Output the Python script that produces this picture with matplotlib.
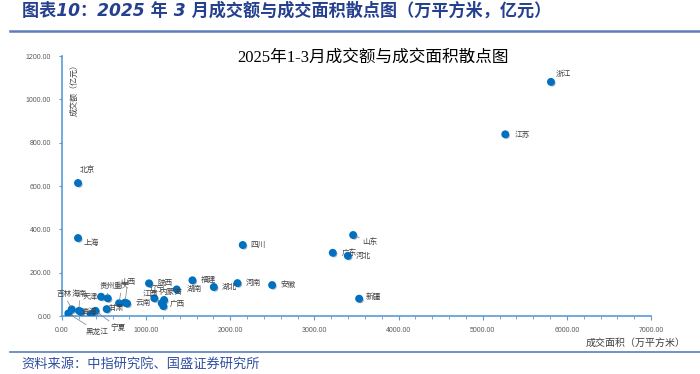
import matplotlib.pyplot as plt
import matplotlib.ticker as mticker
import matplotlib.patheffects as pe
from matplotlib.lines import Line2D

plt.rcParams['font.family'] = ['Noto Sans CJK SC', 'DejaVu Sans']

# 数据
provinces = ['浙江', '江苏', '北京', '上海', '四川', '山东', '广东', '河北', '新疆', '安徽',
             '河南', '湖北', '福建', '湖南', '陕西', '江西', '辽宁', '内蒙古', '广西', '天津',
             '贵州', '重庆', '山西', '云南', '甘肃', '宁夏', '西藏', '青海', '海南', '吉林', '黑龙江']
area = [5811, 5268, 190, 190, 2148, 3460, 3218, 3397, 3531, 2497,
        2085, 1804, 1550, 1363, 1034, 1097, 1213, 1185, 1204, 464,
        543, 678, 749, 773, 531, 398, 345, 222, 202, 115, 75]
amount = [1081, 839, 614, 360, 328, 374, 292, 278, 80, 143,
          152, 134, 165, 123, 151, 82, 74, 59, 46, 89,
          82, 59, 62, 58, 32, 24, 9, 20, 24, 31, 12]

# 标签偏移（像素）和是否画引导线
label_pos = {
    '浙江': (5, 8, False), '江苏': (9, -1, False), '北京': (2, 13, False),
    '上海': (6, -5, False), '四川': (8, 0, False), '山东': (9, -7, True),
    '广东': (9, 0, False), '河北': (8, 0, False), '新疆': (7, 2, False),
    '安徽': (8, 0, False), '河南': (8, 0, False), '湖北': (8, 0, False),
    '福建': (8, 0, False), '湖南': (10, 0, False), '陕西': (8, 0, False),
    '江西': (-12, 4, False), '辽宁': (-14, 10, False), '内蒙古': (-2, 11, False),
    '广西': (6, 2, False), '天津': (-18, 0, False), '贵州': (-8, 12, True),
    '重庆': (-5, 17, True), '山西': (-5, 21, True), '云南': (8, 0, False),
    '甘肃': (2, 1, False), '宁夏': (15, -17, True), '青海': (1, 0, False),
    '海南': (-7, 17, True), '吉林': (-15, 15, True), '黑龙江': (17, -18, True),
}

header = '图表10：2025 年 3 月成交额与成交面积散点图（万平方米，亿元）'
title = '2025年1-3月成交额与成交面积散点图'
source = '资料来源：中指研究院、国盛证券研究所'

blue_dark = '#24408E'
axis_blue = '#5B9BD5'

fig = plt.figure(figsize=(7, 3.74), dpi=100)
fig.patch.set_facecolor('white')

ax = fig.add_axes([0.0886, 0.155, 0.8414, 0.695])
ax.scatter(area, amount, s=22, color='#0070C0', zorder=3,
           path_effects=[pe.SimplePatchShadow(offset=(1, -1), alpha=0.35), pe.Normal()])

for name, x, y in zip(provinces, area, amount):
    if name not in label_pos:
        continue
    dx, dy, lead = label_pos[name]
    kw = {}
    if lead:
        kw['arrowprops'] = dict(arrowstyle='-', color='#7F7F7F', lw=0.5,
                                shrinkA=0, shrinkB=2)
    ax.annotate(name, (x, y), xytext=(dx, dy), textcoords='offset pixels',
                ha='left', va='center', fontsize=5.5, color='#404040', zorder=4, **kw)

ax.set_xlim(0, 7000)
ax.set_ylim(0, 1200)
ax.xaxis.set_major_locator(mticker.MultipleLocator(1000))
ax.xaxis.set_minor_locator(mticker.MultipleLocator(200))
ax.yaxis.set_major_locator(mticker.MultipleLocator(200))
ax.xaxis.set_major_formatter(mticker.FormatStrFormatter('%.2f'))
ax.yaxis.set_major_formatter(mticker.FormatStrFormatter('%.2f'))

for s in ['top', 'right']:
    ax.spines[s].set_visible(False)
for s in ['left', 'bottom']:
    ax.spines[s].set_color(axis_blue)
    ax.spines[s].set_linewidth(1.2)

ax.tick_params(axis='both', which='both', colors=axis_blue, direction='out')
ax.tick_params(axis='x', which='major', length=3, width=0.8, pad=5)
ax.tick_params(axis='x', which='minor', length=2, width=0.6)
ax.tick_params(axis='y', which='major', length=2, width=0.8, pad=6)
for lab in ax.get_xticklabels() + ax.get_yticklabels():
    lab.set_fontfamily('Liberation Sans')
    lab.set_fontsize(5)
    lab.set_color('#595959')

ax.text(0.012, 0.985, '成交额（亿元）', transform=ax.transAxes, rotation=90,
        ha='left', va='top', fontsize=5.8, color='#404040')

fig.text(0.98, 0.082, '成交面积（万平方米）', ha='right', va='center',
         fontsize=7.2, color='#404040')

fig.text(0.533, 0.846, title, ha='center', va='center', fontsize=12,
         color='black', family=['Liberation Serif', 'Noto Sans CJK SC'])

fig.text(0.031, 0.973, header, ha='left', va='center', fontsize=12.3,
         color=blue_dark, weight='bold', style='italic',
         family=['DejaVu Sans', 'Noto Sans CJK SC'])
fig.add_artist(Line2D([0.014, 1.0], [0.918, 0.918], color='#5A7EB8', lw=1.8))
fig.add_artist(Line2D([0.014, 1.0], [0.059, 0.059], color='#5A7EB8', lw=1.2))
fig.text(0.031, 0.027, source, ha='left', va='center', fontsize=9.5,
         color='#2F4F9F', style='italic', family=['DejaVu Sans', 'Noto Sans CJK SC'])

fig.savefig('out.png', dpi=100, facecolor='white')
